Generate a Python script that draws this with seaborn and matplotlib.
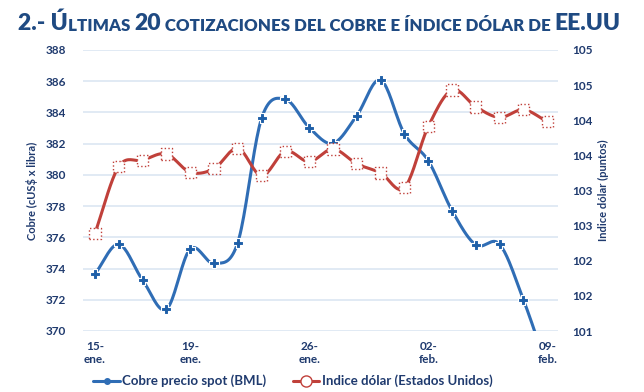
import numpy as np
import pandas as pd
import matplotlib
matplotlib.use("Agg")
import matplotlib.pyplot as plt
import seaborn as sns
from matplotlib.lines import Line2D

# data
fechas = ["15-ene.", "16-ene.", "17-ene.", "18-ene.", "19-ene.", "22-ene.", "23-ene.",
          "24-ene.", "25-ene.", "26-ene.", "29-ene.", "30-ene.", "31-ene.", "01-feb.",
          "02-feb.", "05-feb.", "06-feb.", "07-feb.", "08-feb.", "09-feb."]
cobre = [373.65, 375.55, 373.27, 371.39, 375.25, 374.33, 375.66, 383.62, 384.84, 383.03,
         382.02, 383.80, 386.08, 382.62, 380.91, 377.71, 375.51, 375.55, 371.99, 367.6]
dolar = [102.39, 103.34, 103.43, 103.52, 103.26, 103.31, 103.60, 103.21, 103.56, 103.41,
         103.59, 103.38, 103.25, 103.04, 103.91, 104.43, 104.19, 104.04, 104.15, 103.98]
ticks_x = [0, 4, 9, 14, 19]
ticks_izq = [370, 372, 374, 376, 378, 380, 382, 384, 386, 388]
ticks_der = [101, 101.5, 102, 102.5, 103, 103.5, 104, 104.5, 105]
labels_der = ["101", "102", "102", "103", "103", "104", "104", "105", "105"]

AZUL = "#2F6DB5"
ROJO = "#C0403A"
NAVY = "#1F3A6E"
TITULO = "#1F4A82"
GRID = "#DCE6F2"


def suavizar(y, n=20):
    # catmull-rom, parecido a la linea suavizada de excel
    y = np.asarray(y, float)
    p = np.concatenate([[2 * y[0] - y[1]], y, [2 * y[-1] - y[-2]]])
    xs, ys = [], []
    for i in range(len(y) - 1):
        p0, p1, p2, p3 = p[i], p[i + 1], p[i + 2], p[i + 3]
        t = np.linspace(0, 1, n, endpoint=False)
        v = 0.5 * ((2 * p1) + (-p0 + p2) * t + (2 * p0 - 5 * p1 + 4 * p2 - p3) * t ** 2
                   + (-p0 + 3 * p1 - 3 * p2 + p3) * t ** 3)
        xs.extend(i + t)
        ys.extend(v)
    xs.append(len(y) - 1)
    ys.append(y[-1])
    return pd.DataFrame({"x": xs, "y": ys})


sns.set_theme(style="white")
plt.rcParams["font.family"] = ["Lato", "DejaVu Sans"]
plt.rcParams["font.weight"] = "bold"

fig = plt.figure(figsize=(6.44, 3.92), dpi=100)
ax = fig.add_axes([83 / 644, 1 - 331 / 392, (558 - 83) / 644, (331 - 50) / 392])
ax2 = ax.twinx()

df = pd.DataFrame({"i": range(len(fechas)), "cobre": cobre, "dolar": dolar})

s1 = suavizar(cobre)
sns.lineplot(data=s1, x="x", y="y", ax=ax, color=AZUL, lw=2.2)
sns.scatterplot(data=df, x="i", y="cobre", ax=ax, marker="P", s=55, color="#1E5FA8",
                edgecolor="white", linewidth=0.8, zorder=5)

s2 = suavizar(dolar)
sns.lineplot(data=s2, x="x", y="y", ax=ax2, color=ROJO, lw=2.2)
sns.scatterplot(data=df, x="i", y="dolar", ax=ax2, marker="s", s=65, color="white",
                edgecolor=ROJO, linewidth=1.0, linestyle=":", zorder=5)

ax.set_xlim(-0.5, 19.45)
ax.set_ylim(370, 388)
ax2.set_ylim(101, 105)
ax.set_yticks(ticks_izq)
ax2.set_yticks(ticks_der)
ax2.set_yticklabels(labels_der)
ax.set_xticks(ticks_x)
ax.set_xticklabels([fechas[i].replace("-", "-\n") for i in ticks_x])
ax.yaxis.grid(True, color=GRID, lw=1.2)
ax.xaxis.grid(False)
for a in (ax, ax2):
    for sp in a.spines.values():
        sp.set_visible(False)
    a.tick_params(length=0, colors=NAVY, labelsize=8.5)
    a.set_xlabel("")
ax.tick_params(axis="y", pad=12)
ax2.tick_params(axis="y", pad=10)
ax.tick_params(axis="x", pad=7)
for t in ax.get_xticklabels() + ax.get_yticklabels() + ax2.get_yticklabels():
    t.set_fontweight("bold")

ax.set_ylabel("Cobre (cUS$ x libra)", color=NAVY, fontsize=8, fontweight="bold", labelpad=6)
ax2.set_ylabel("Indice dólar (puntos)", color=NAVY, fontsize=8, fontweight="bold", labelpad=4)

# titulo en versalitas
partes = [("2.- Ú", 16.5), ("LTIMAS ", 12.2), ("20", 16.5),
          (" COTIZACIONES DEL COBRE E ÍNDICE DÓLAR DE ", 12.2), ("EE.UU", 16.5)]
t = fig.text(18 / 644, 1 - 30 / 392, partes[0][0], fontsize=partes[0][1],
             color=TITULO, fontweight="heavy", va="baseline")
for txt, sz in partes[1:]:
    t = ax.annotate(txt, xy=(1, 0), xycoords=t, xytext=(0, 0), textcoords="offset points",
                    fontsize=sz, color=TITULO, fontweight="heavy", va="bottom",
                    annotation_clip=False)

handles = [Line2D([], [], color=AZUL, lw=2.2, marker="o", markersize=4),
           Line2D([], [], color=ROJO, lw=2.2, marker="o", markersize=8,
                  markerfacecolor="white", markeredgecolor=ROJO)]
fig.legend(handles, ["Cobre precio spot (BML)", "Indice dólar (Estados Unidos)"],
           loc="center", bbox_to_anchor=(293 / 644, 1 - 381 / 392), ncol=2, frameon=False,
           fontsize=9.5, labelcolor=NAVY, handlelength=2.0, handletextpad=0.2,
           columnspacing=2.0)

fig.savefig("out.png", dpi=100)
